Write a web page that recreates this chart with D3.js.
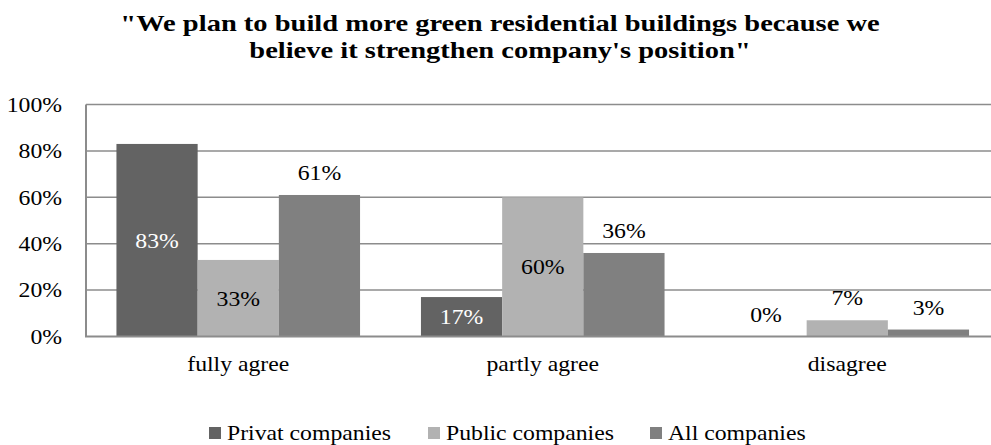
<!DOCTYPE html>
<html>
<head>
<meta charset="utf-8">
<script src="https://cdn.jsdelivr.net/npm/d3@7"></script>
<style>
  body { margin: 0; background: #fff; }
  text { font-family: "Liberation Serif", "Times New Roman", serif; }
</style>
</head>
<body>
<div id="main"></div>
<script>
var categories = ["fully agree", "partly agree", "disagree"];
var seriesNames = ["Privat companies", "Public companies", "All companies"];
var privatValues = [83, 17, 0];
var publicValues = [33, 60, 7];
var allValues = [61, 36, 3];
var yTicks = [0, 20, 40, 60, 80, 100];
var titleLines = ["\"We plan to build more green residential buildings because we",
                  "believe it strengthen company's position\""];

var seriesColors = ["#636363", "#b2b2b2", "#808080"];
var seriesValues = [privatValues, publicValues, allValues];

var width = 991, height = 445;
var plotLeft = 86, plotRight = 999.5, plotTop = 104.5, plotBottom = 336.5;
// the reference type is a little wider than Times, stretch it
var stretch = 1.13;

function place(sel, fx, fy, sx) {
    sel.attr("transform", function(d, i) {
        return "translate(" + fx(d, i) + "," + fy(d, i) + ") scale(" + (sx || stretch) + ",1)";
    });
}

var svg = d3.select("#main")
        .append("svg")
        .attr("width", width)
        .attr("height", height);

var x0 = d3.scaleBand().domain(categories).range([plotLeft, plotRight]);
var x1 = d3.scaleBand().domain(seriesNames)
        .range([0, x0.bandwidth()])
        .paddingOuter(0.375);
var y = d3.scaleLinear().domain([0, 100]).range([plotBottom, plotTop]);

// title
svg.append("g")
    .selectAll("text")
    .data(titleLines)
    .enter()
    .append("text")
    .attr("text-anchor", "middle")
    .style("font-weight", "bold")
    .style("font-size", "23px")
    .text(function(d) { return d; })
    .call(place, function() { return 500; }, function(d, i) { return 31 + i * 27; }, 1.24);

// gridlines
svg.append("g")
    .selectAll("line")
    .data(yTicks.slice(1))
    .enter()
    .append("line")
    .attr("x1", plotLeft)
    .attr("x2", plotRight)
    .attr("y1", function(d) { return y(d); })
    .attr("y2", function(d) { return y(d); })
    .attr("stroke", "#8c8c8c")
    .attr("stroke-width", 1.5);

// y tick labels
svg.append("g")
    .selectAll("text")
    .data(yTicks)
    .enter()
    .append("text")
    .attr("dy", "0.35em")
    .attr("text-anchor", "end")
    .style("font-size", "21px")
    .text(function(d) { return d + "%"; })
    .call(place, function() { return 62; }, function(d) { return y(d); });

// bars
var groups = svg.append("g")
        .selectAll("g")
        .data(categories)
        .enter()
        .append("g")
        .attr("transform", function(d) { return "translate(" + x0(d) + ",0)"; });

function cells(d, ci) {
    return seriesNames.map(function(s, si) {
        return { series: s, si: si, value: seriesValues[si][ci] };
    });
}

groups.selectAll("rect")
    .data(cells)
    .enter()
    .append("rect")
    .attr("x", function(d) { return x1(d.series); })
    .attr("width", x1.bandwidth())
    .attr("y", function(d) { return y(d.value); })
    .attr("height", function(d) { return plotBottom - y(d.value); })
    .attr("fill", function(d) { return seriesColors[d.si]; });

// value labels: "All companies" and small bars sit above, the rest inside
function outside(d) { return d.si === 2 || d.value < 10; }

groups.selectAll("text")
    .data(cells)
    .enter()
    .append("text")
    .attr("dy", function(d) { return outside(d) ? "0" : "0.35em"; })
    .attr("text-anchor", "middle")
    .style("font-size", "21px")
    .attr("fill", function(d) {
        return (d.si === 0 && !outside(d)) ? "#fff" : "#000";
    })
    .text(function(d) { return d.value + "%"; })
    .call(place,
          function(d) { return x1(d.series) + x1.bandwidth() / 2; },
          function(d) {
              if (outside(d))
                  return y(d.value) - 15;
              return (y(d.value) + plotBottom) / 2;
          });

// axes
svg.append("line")
    .attr("x1", plotLeft).attr("x2", plotLeft)
    .attr("y1", plotTop).attr("y2", plotBottom)
    .attr("stroke", "#8c8c8c")
    .attr("stroke-width", 2);
svg.append("line")
    .attr("x1", plotLeft - 1).attr("x2", plotRight)
    .attr("y1", plotBottom).attr("y2", plotBottom)
    .attr("stroke", "#8c8c8c")
    .attr("stroke-width", 2);

// category labels
svg.append("g")
    .selectAll("text")
    .data(categories)
    .enter()
    .append("text")
    .attr("text-anchor", "middle")
    .style("font-size", "21px")
    .text(function(d) { return d; })
    .call(place, function(d) { return x0(d) + x0.bandwidth() / 2; }, function() { return 371; });

// legend
var legendX = [209, 428, 650];
var legend = svg.append("g")
        .selectAll("g")
        .data(seriesNames)
        .enter()
        .append("g")
        .attr("transform", function(d, i) { return "translate(" + legendX[i] + ",427)"; });
legend.append("rect")
    .attr("width", 12)
    .attr("height", 12)
    .attr("fill", function(d, i) { return seriesColors[i]; });
legend.append("text")
    .style("font-size", "21px")
    .text(function(d) { return d; })
    .call(place, function() { return 18; }, function() { return 13; });
</script>
</body>
</html>
